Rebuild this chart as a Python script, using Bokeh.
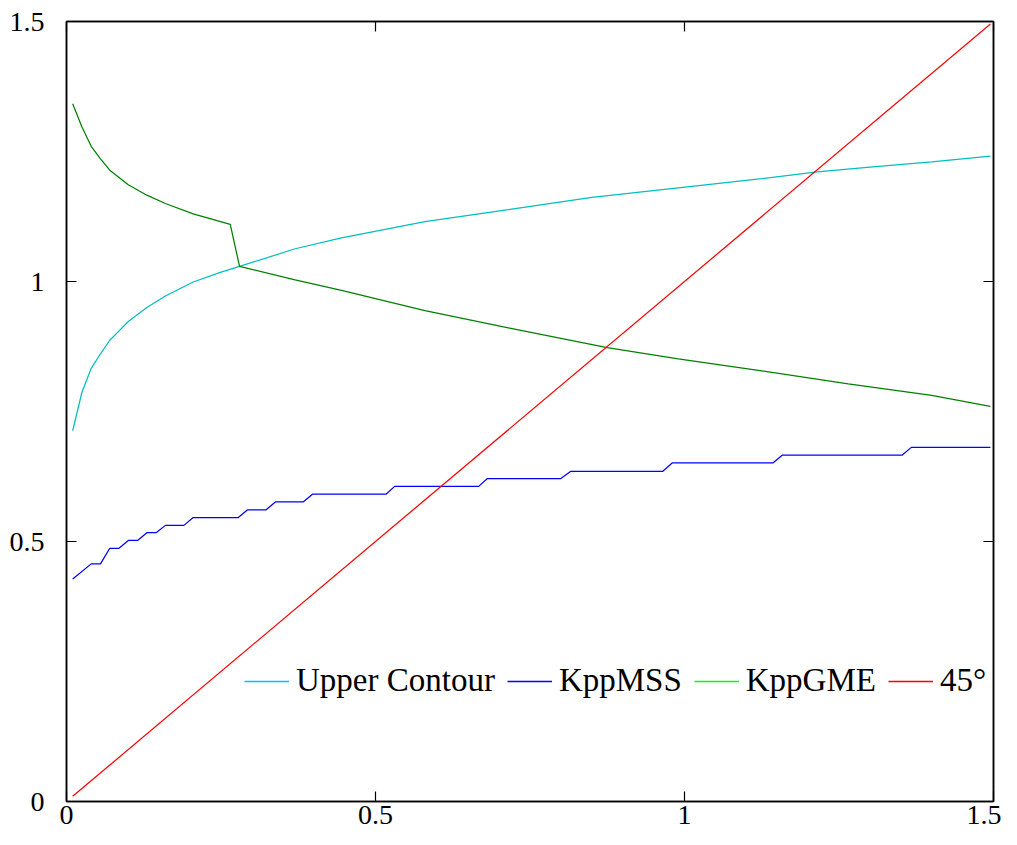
from bokeh.plotting import figure
from bokeh.models import Range1d, FixedTicker, LinearAxis, Legend, LegendItem, CustomLabelingPolicy
from bokeh.embed import file_html
from bokeh.resources import INLINE

# ---- data ----
contour_x = [0.010, 0.025, 0.040, 0.055, 0.070, 0.085, 0.100, 0.130, 0.160, 0.205, 0.250, 0.280,
             0.370, 0.445, 0.580, 0.715, 0.850, 0.990, 1.125, 1.215, 1.300, 1.400, 1.495]
contour_y = [0.713, 0.787, 0.833, 0.861, 0.887, 0.905, 0.923, 0.950, 0.972, 0.999, 1.018, 1.029,
             1.063, 1.084, 1.115, 1.138, 1.162, 1.180, 1.198, 1.211, 1.220, 1.230, 1.241]

gme_x = [0.010, 0.025, 0.040, 0.055, 0.070, 0.100, 0.130, 0.160, 0.205, 0.235, 0.265, 0.280,
         0.370, 0.445, 0.580, 0.715, 0.875, 0.990, 1.125, 1.265, 1.400, 1.495]
gme_y = [1.342, 1.297, 1.260, 1.236, 1.214, 1.186, 1.166, 1.150, 1.130, 1.120, 1.110, 1.029,
         1.003, 0.983, 0.944, 0.911, 0.873, 0.851, 0.828, 0.803, 0.781, 0.760]

mss_x = [0.010, 0.040, 0.055, 0.070, 0.085, 0.100, 0.115, 0.130, 0.145, 0.160, 0.190, 0.205,
         0.278, 0.293, 0.323, 0.338, 0.383, 0.398, 0.517, 0.531, 0.667, 0.681, 0.800, 0.816,
         0.965, 0.980, 1.143, 1.158, 1.352, 1.367, 1.495]
mss_y = [0.428, 0.457, 0.457, 0.487, 0.487, 0.502, 0.502, 0.517, 0.517, 0.531, 0.531, 0.546,
         0.546, 0.561, 0.561, 0.576, 0.576, 0.591, 0.591, 0.606, 0.606, 0.621, 0.621, 0.635,
         0.635, 0.651, 0.651, 0.666, 0.666, 0.681, 0.681]

diag_x = [0.010, 1.495]
diag_y = [0.010, 1.495]

ticks = [0, 0.5, 1, 1.5]
tick_labels = ["0", "0.5", "1", "1.5"]
legend_labels = ["Upper Contour", "KppMSS", "KppGME", "45\u00b0"]

FONT = "Liberation Serif"

p = figure(width=1001, height=837, output_backend="svg", toolbar_location=None,
           x_range=Range1d(0, 1.5), y_range=Range1d(0, 1.5),
           min_border_left=66, min_border_right=8, min_border_top=21, min_border_bottom=36)
p.grid.visible = False
p.outline_line_color = "black"
p.outline_line_width = 1.5
p.background_fill_color = "white"
p.border_fill_color = "white"

overrides = {t: l for t, l in zip(ticks, tick_labels)}
hide_all = CustomLabelingPolicy(code="for (const i of indices) indices.unset(i)")

def style_axis(ax, show_labels):
    ax.ticker = FixedTicker(ticks=ticks)
    ax.major_tick_in = 10
    ax.major_tick_out = 0
    ax.minor_tick_line_color = None
    ax.axis_line_color = "black"
    ax.axis_line_width = 1.5
    ax.major_tick_line_color = "black"
    ax.major_tick_line_width = 1.2
    if show_labels:
        ax.major_label_overrides = overrides
        ax.major_label_text_font = FONT
        ax.major_label_text_font_size = "28px"
        ax.major_label_text_color = "black"
    else:
        ax.major_label_policy = hide_all
        ax.major_label_text_font_size = "1px"
        ax.major_label_standoff = 0

style_axis(p.xaxis[0], True)
style_axis(p.yaxis[0], True)
p.xaxis[0].major_label_standoff = 4
p.yaxis[0].major_label_standoff = 22

top = LinearAxis()
right = LinearAxis()
style_axis(top, False)
style_axis(right, False)
p.add_layout(top, "above")
p.add_layout(right, "right")

lw = 1.25
p.line(contour_x, contour_y, line_color="#00BFBF", line_width=lw)
p.line(mss_x, mss_y, line_color="#0000FF", line_width=lw)
p.line(gme_x, gme_y, line_color="#008000", line_width=lw)
p.line(diag_x, diag_y, line_color="#FF0000", line_width=lw)

# legend entries (legend colours differ slightly from plotted lines, as in the reference)
leg_colors = ["#00BFFF", "#0000FF", "#00FF00", "#FF0000"]
nan = float("nan")
items = []
for lab, c in zip(legend_labels, leg_colors):
    r = p.line(x=[nan], y=[nan], line_color=c, line_width=1.3)
    items.append(LegendItem(label=lab, renderers=[r]))

legend = Legend(items=items, orientation="horizontal", location=(178, 102),
                label_text_font=FONT, label_text_font_size="33px", label_text_color="black",
                glyph_width=45, glyph_height=20, label_standoff=7, spacing=12,
                padding=10, margin=0, border_line_color=None,
                background_fill_color="white", background_fill_alpha=1.0)
p.add_layout(legend, "center")

open("out.html", "w").write(file_html(p, INLINE))
